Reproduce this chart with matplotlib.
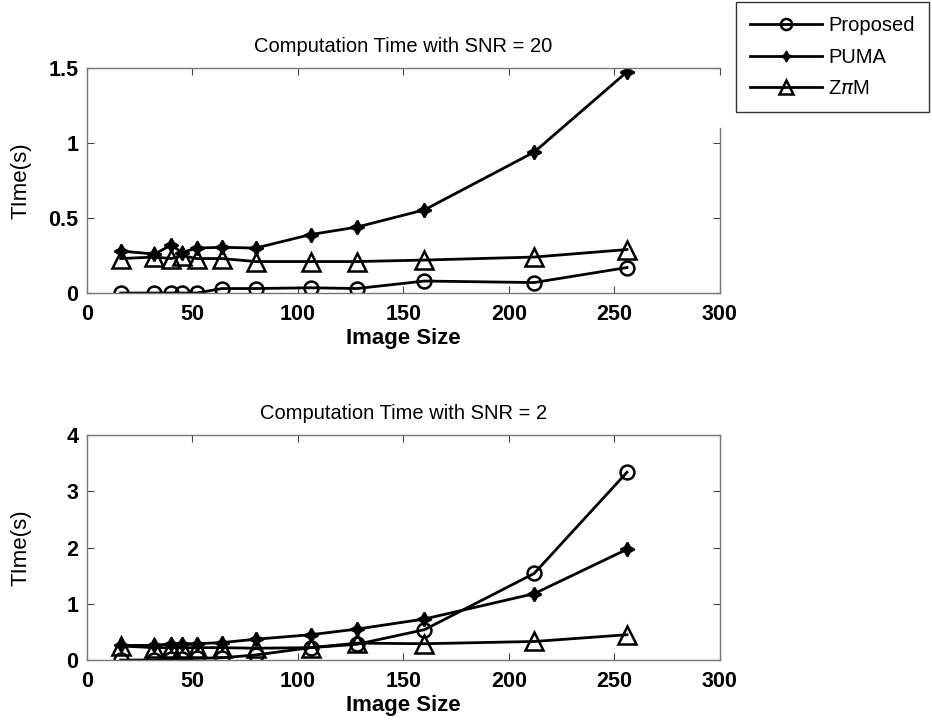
import numpy as np
import matplotlib.pyplot as plt
from matplotlib.lines import Line2D

# image sizes
sizes = [16, 32, 40, 45, 52, 64, 80, 106, 128, 160, 212, 256]

# SNR = 20
prop_20 = [0.0, 0.0, 0.0, 0.0, 0.0, 0.03, 0.03, 0.035, 0.03, 0.08, 0.07, 0.17]
puma_20 = [0.28, 0.26, 0.32, 0.27, 0.30, 0.305, 0.30, 0.39, 0.44, 0.555, 0.94, 1.475]
zpm_20 = [0.23, 0.24, 0.23, 0.25, 0.23, 0.23, 0.21, 0.21, 0.21, 0.22, 0.24, 0.29]

# SNR = 2
prop_2 = [0.0, 0.0, 0.02, 0.02, 0.03, 0.04, 0.09, 0.22, 0.28, 0.54, 1.54, 3.34]
puma_2 = [0.26, 0.26, 0.29, 0.29, 0.29, 0.31, 0.37, 0.45, 0.55, 0.73, 1.18, 1.97]
zpm_2 = [0.25, 0.22, 0.22, 0.22, 0.22, 0.22, 0.21, 0.22, 0.30, 0.29, 0.33, 0.45]

titles = ["Computation Time with SNR = 20", "Computation Time with SNR = 2"]
yticks = [[0, 0.5, 1, 1.5], [0, 1, 2, 3, 4]]
ytlabels = [["0", "0.5", "1", "1.5"], ["0", "1", "2", "3", "4"]]
xticks = [0, 50, 100, 150, 200, 250, 300]

plt.rcParams['font.family'] = ['Liberation Sans', 'DejaVu Sans']

fig = plt.figure(figsize=(9.32, 7.23), dpi=100)
ax1 = fig.add_axes([0.0933, 0.5947, 0.679, 0.311])
ax2 = fig.add_axes([0.0933, 0.0871, 0.679, 0.311])

star = (4, 1, 0)
data = [(prop_20, puma_20, zpm_20), (prop_2, puma_2, zpm_2)]
for i, (ax, (p, u, z)) in enumerate(zip([ax1, ax2], data)):
    ax.plot(sizes, p, '-', color='black', lw=2, marker='o', ms=10,
            mfc='none', mew=1.8)
    ax.plot(sizes, u, '-', color='black', lw=2, marker=star, ms=10,
            mfc='black', mew=1.5)
    ax.plot(sizes, z, '-', color='black', lw=2, marker='^', ms=13,
            mfc='none', mew=1.8)
    ax.set_xlim(0, 300)
    ax.set_ylim(yticks[i][0], yticks[i][-1])
    ax.set_xticks(xticks)
    ax.set_xticklabels([str(t) for t in xticks], fontsize=15.5, fontweight='bold')
    ax.set_yticks(yticks[i])
    ax.set_yticklabels(ytlabels[i], fontsize=15.5, fontweight='bold')
    ax.tick_params(direction='in', top=True, right=True, length=5,
                   width=0.8, color='#444444', pad=6)
    ax.tick_params(axis='x', pad=8)
    for s in ax.spines.values():
        s.set_color('#777777')
        s.set_linewidth(1.0)
    ax.set_title(titles[i], fontsize=14.5, pad=12)
    ax.set_xlabel("Image Size", fontsize=16, fontweight='bold', labelpad=2)
    ax.set_ylabel("TIme(s)", fontsize=16)
    ax.yaxis.set_label_coords(-0.088, 0.5)

# legend box sits over the top-right corner of the upper axes
ax1.spines['right'].set_bounds(0, 1.1)

handles = [
    Line2D([], [], color='black', lw=2, marker='o', ms=8, mfc='none', mew=1.8),
    Line2D([], [], color='black', lw=2, marker=star, ms=8, mfc='black'),
    Line2D([], [], color='black', lw=2, marker='^', ms=10, mfc='none', mew=1.8),
]
fig.legend(handles, ["Proposed", "PUMA", r"Z$\pi$M"], loc='upper right',
           bbox_to_anchor=(0.999, 1.0), fontsize=14.5, frameon=True,
           fancybox=False, edgecolor='black', handlelength=3.6,
           borderpad=0.7, labelspacing=0.62, handletextpad=0.3,
           borderaxespad=0.1)

fig.savefig("out.png", dpi=100)
